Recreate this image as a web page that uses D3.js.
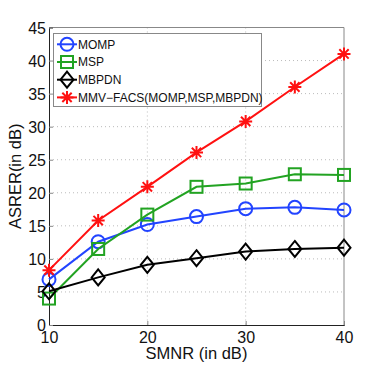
<!DOCTYPE html>
<html>
<head>
<meta charset="utf-8">
<script src="https://cdn.jsdelivr.net/npm/d3@7"></script>
<style>
  body { margin: 0; background: #fff; }
  svg text { font-family: "Liberation Sans", Arial, sans-serif; }
</style>
</head>
<body>
<svg id="chart" width="381" height="366"></svg>
<script>
const snr = [10, 15, 20, 25, 30, 35, 40];
const momp = [6.9, 12.6, 15.2, 16.4, 17.6, 17.8, 17.4];
const msp = [4.0, 11.5, 16.7, 20.9, 21.4, 22.8, 22.7];
const mbpdn = [5.1, 7.2, 9.1, 10.1, 11.1, 11.5, 11.7];
const facs = [8.3, 15.8, 20.9, 26.1, 30.8, 36.0, 41.0];
const xTicks = [10, 20, 30, 40];
const yTicks = [0, 5, 10, 15, 20, 25, 30, 35, 40, 45];

const series = [
  { name: "MOMP", values: momp, color: "#2244ff", marker: "circle" },
  { name: "MSP", values: msp, color: "#22a322", marker: "square" },
  { name: "MBPDN", values: mbpdn, color: "#000000", marker: "diamond" },
  { name: "MMV\u2212FACS(MOMP,MSP,MBPDN)", values: facs, color: "#ff1111", marker: "star" }
];

const svg = d3.select("#chart");
const mLeft = 49, mRight = 344, mTop = 27.5, mBottom = 325;

const x = d3.scaleLinear().domain([10, 40]).range([mLeft, mRight]);
const y = d3.scaleLinear().domain([0, 45]).range([mBottom, mTop]);

// grid
svg.append("g").selectAll("line").data(yTicks.slice(1, -1)).join("line")
  .attr("x1", mLeft).attr("x2", mRight)
  .attr("y1", d => y(d)).attr("y2", d => y(d))
  .attr("stroke", "#bbb").attr("stroke-width", 1).attr("stroke-dasharray", "1,3");
svg.append("g").selectAll("line").data(xTicks.slice(1, -1)).join("line")
  .attr("y1", mTop).attr("y2", mBottom)
  .attr("x1", d => x(d)).attr("x2", d => x(d))
  .attr("stroke", "#bbb").attr("stroke-width", 1).attr("stroke-dasharray", "1,3");

// frame
svg.append("line").attr("x1", mLeft).attr("x2", mRight).attr("y1", mTop).attr("y2", mTop).attr("stroke", "#888");
svg.append("line").attr("x1", mRight).attr("x2", mRight).attr("y1", mTop).attr("y2", mBottom).attr("stroke", "#888");

const xAxis = svg.append("g").attr("transform", `translate(0,${mBottom})`)
  .call(d3.axisBottom(x).tickValues(xTicks).tickSize(-4).tickPadding(7).tickFormat(d3.format("d")));
const yAxis = svg.append("g").attr("transform", `translate(${mLeft},0)`)
  .call(d3.axisLeft(y).tickValues(yTicks).tickSize(-4).tickPadding(3).tickFormat(d3.format("d")));
[xAxis, yAxis].forEach(a => {
  a.select(".domain").attr("stroke", "#222");
  a.selectAll(".tick line").attr("stroke", "#888");
  a.selectAll(".tick text").attr("font-size", 16).attr("fill", "#111")
    .attr("font-family", "'Liberation Sans', Arial, sans-serif");
});
yAxis.selectAll(".tick text").attr("dy", "0.36em");

svg.append("text").attr("x", (mLeft + mRight) / 2).attr("y", 359)
  .attr("text-anchor", "middle").attr("font-size", 16.5).attr("fill", "#111")
  .text("SMNR (in dB)");
svg.append("text").attr("transform", `translate(20.5,${(mTop + mBottom) / 2}) rotate(-90)`)
  .attr("text-anchor", "middle").attr("font-size", 16.5).attr("fill", "#111")
  .text("ASRER(in dB)");

function drawMarker(g, type, color) {
  if (type === "circle") {
    g.append("circle").attr("r", 6.5).attr("fill", "none").attr("stroke", color).attr("stroke-width", 2);
  } else if (type === "square") {
    g.append("rect").attr("x", -6).attr("y", -6).attr("width", 12).attr("height", 12)
      .attr("fill", "none").attr("stroke", color).attr("stroke-width", 2);
  } else if (type === "diamond") {
    g.append("path").attr("d", "M0,-8L6.5,0L0,8L-6.5,0Z")
      .attr("fill", "none").attr("stroke", color).attr("stroke-width", 2);
  } else {
    const r = 6.5, s = r * 0.72;
    g.append("path").attr("d", `M${-r},0L${r},0M0,${-r}L0,${r}M${-s},${-s}L${s},${s}M${-s},${s}L${s},${-s}`)
      .attr("stroke", color).attr("stroke-width", 2);
  }
}

const line = d3.line().x((d, i) => x(snr[i])).y(d => y(d));
series.forEach(s => {
  const g = svg.append("g");
  g.append("path").attr("d", line(s.values)).attr("fill", "none")
    .attr("stroke", s.color).attr("stroke-width", 2);
  s.values.forEach((v, i) => {
    drawMarker(g.append("g").attr("transform", `translate(${x(snr[i])},${y(v)})`), s.marker, s.color);
  });
});

// legend
const lg = svg.append("g");
lg.append("rect").attr("x", 53.5).attr("y", 33.5).attr("width", 208).attr("height", 73)
  .attr("fill", "#fff").attr("stroke", "#888").attr("stroke-width", 1);
series.forEach((s, i) => {
  const cy = 44.3 + i * 17.7;
  lg.append("line").attr("x1", 57).attr("x2", 77).attr("y1", cy).attr("y2", cy)
    .attr("stroke", s.color).attr("stroke-width", 2);
  drawMarker(lg.append("g").attr("transform", `translate(67,${cy})`), s.marker, s.color);
  lg.append("text").attr("x", 78).attr("y", cy).attr("dy", "0.36em")
    .attr("font-size", 12).attr("fill", "#111").text(s.name);
});
</script>
</body>
</html>
